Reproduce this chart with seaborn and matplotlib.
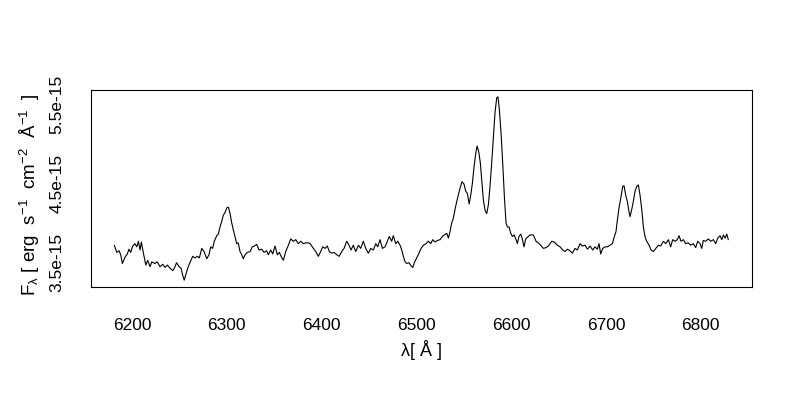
import numpy as np
import pandas as pd
import seaborn as sns
import matplotlib
matplotlib.use("Agg")
import matplotlib.pyplot as plt

# wavelength (Angstrom) and flux (units of 1e-15 erg/s/cm^2/A)
wavelength = [
    6181.3, 6183.9, 6186.3, 6188.0, 6189.8, 6192.6, 6195.0, 6196.8, 6198.6, 6200.7,
    6203.0, 6205.0, 6206.7, 6208.4, 6209.8, 6212.0, 6214.5, 6216.5, 6219.0, 6220.8,
    6224.0, 6226.6, 6229.5, 6232.4, 6234.8, 6237.3, 6240.0, 6243.0, 6244.6, 6247.0,
    6249.6, 6251.7, 6253.5, 6255.0, 6257.0, 6258.7, 6261.0, 6264.0, 6266.5, 6268.9,
    6271.0, 6273.5, 6276.0, 6278.8, 6281.2, 6283.0, 6285.0, 6286.8, 6289.3, 6291.0,
    6292.8, 6294.6, 6296.3, 6298.0, 6299.9, 6301.6, 6303.4, 6305.0, 6306.9, 6308.6,
    6310.4, 6312.0, 6313.9, 6315.7, 6317.4, 6319.2, 6321.6, 6324.5, 6326.9, 6329.0,
    6331.5, 6334.0, 6336.8, 6339.2, 6342.0, 6343.8, 6346.3, 6348.4, 6350.8, 6353.3,
    6355.4, 6357.2, 6359.6, 6362.1, 6364.9, 6367.4, 6370.1, 6372.7, 6375.4, 6378.0,
    6380.7, 6383.2, 6386.0, 6387.8, 6391.3, 6393.8, 6396.5, 6399.0, 6401.1, 6403.6,
    6406.0, 6408.1, 6410.7, 6413.0, 6416.0, 6418.4, 6421.2, 6423.6, 6426.5, 6428.9,
    6431.0, 6433.4, 6436.0, 6438.8, 6441.2, 6444.0, 6446.5, 6449.3, 6451.8, 6454.6,
    6457.1, 6459.2, 6461.6, 6464.1, 6466.9, 6469.3, 6471.4, 6473.9, 6475.6, 6478.2,
    6480.3, 6482.7, 6484.5, 6486.2, 6488.0, 6489.8, 6492.2, 6494.3, 6496.1, 6497.8,
    6500.3, 6502.7, 6504.9, 6507.3, 6510.1, 6512.6, 6515.1, 6517.2, 6519.6, 6522.0,
    6524.9, 6527.3, 6529.4, 6532.0, 6533.7, 6535.4, 6537.2, 6538.9, 6540.7, 6542.5,
    6544.2, 6546.0, 6548.1, 6550.2, 6552.0, 6553.8, 6555.6, 6557.3, 6559.0, 6560.8,
    6562.6, 6564.0, 6565.7, 6567.4, 6568.9, 6570.6, 6572.4, 6574.2, 6575.9, 6577.6,
    6579.4, 6581.2, 6582.9, 6584.7, 6586.0, 6587.5, 6589.3, 6591.0, 6592.8, 6594.5,
    6596.0, 6597.7, 6599.5, 6601.2, 6603.0, 6604.8, 6606.5, 6608.2, 6610.0, 6611.7,
    6613.5, 6615.3, 6618.0, 6619.8, 6623.3, 6626.2, 6628.6, 6631.1, 6633.9, 6636.7,
    6639.2, 6642.7, 6645.5, 6648.6, 6651.5, 6654.3, 6656.8, 6659.2, 6662.0, 6664.5,
    6667.3, 6669.8, 6672.6, 6675.1, 6677.9, 6680.4, 6683.2, 6686.0, 6688.4, 6690.9,
    6692.6, 6694.4, 6696.5, 6699.0, 6701.4, 6704.2, 6706.7, 6708.8, 6710.5, 6712.0,
    6713.7, 6715.5, 6717.6, 6719.0, 6720.8, 6722.5, 6724.3, 6725.3, 6727.1, 6728.8,
    6730.6, 6732.4, 6734.1, 6735.9, 6737.7, 6739.4, 6741.1, 6742.9, 6745.4, 6747.5,
    6749.9, 6752.5, 6755.2, 6757.7, 6760.5, 6763.0, 6765.8, 6768.2, 6770.3, 6772.8,
    6775.2, 6777.0, 6779.1, 6781.6, 6784.1, 6786.8, 6789.3, 6792.1, 6794.6, 6796.7,
    6799.2, 6801.0, 6802.6, 6805.2, 6807.9, 6810.4, 6813.2, 6815.7, 6817.9, 6820.3,
    6822.1, 6823.8, 6825.6, 6827.4, 6829.0,
]
flux = [
    3.72, 3.63, 3.65, 3.60, 3.49, 3.57, 3.61, 3.67, 3.63, 3.71,
    3.74, 3.70, 3.77, 3.66, 3.76, 3.62, 3.47, 3.53, 3.45, 3.51,
    3.49, 3.51, 3.45, 3.48, 3.44, 3.47, 3.43, 3.40, 3.43, 3.50,
    3.45, 3.43, 3.34, 3.28, 3.36, 3.43, 3.50, 3.58, 3.56, 3.58,
    3.56, 3.68, 3.64, 3.55, 3.60, 3.70, 3.68, 3.77, 3.84, 3.86,
    3.95, 4.02, 4.10, 4.13, 4.19, 4.20, 4.12, 4.01, 3.91, 3.83,
    3.74, 3.75, 3.64, 3.60, 3.55, 3.60, 3.63, 3.64, 3.70, 3.71,
    3.73, 3.66, 3.67, 3.63, 3.65, 3.60, 3.66, 3.61, 3.71, 3.60,
    3.63, 3.58, 3.53, 3.64, 3.72, 3.80, 3.77, 3.79, 3.74, 3.77,
    3.74, 3.75, 3.75, 3.74, 3.68, 3.64, 3.58, 3.64, 3.70, 3.68,
    3.71, 3.64, 3.62, 3.63, 3.60, 3.58, 3.64, 3.68, 3.77, 3.72,
    3.66, 3.72, 3.64, 3.72, 3.68, 3.77, 3.68, 3.62, 3.68, 3.66,
    3.74, 3.70, 3.79, 3.68, 3.70, 3.77, 3.83, 3.77, 3.84, 3.74,
    3.77, 3.72, 3.66, 3.58, 3.51, 3.49, 3.50, 3.46, 3.44, 3.50,
    3.56, 3.62, 3.68, 3.72, 3.74, 3.77, 3.74, 3.79, 3.76, 3.78,
    3.79, 3.83, 3.85, 3.87, 3.81, 3.89, 4.00, 4.06, 4.17, 4.27,
    4.35, 4.44, 4.52, 4.49, 4.40, 4.37, 4.24, 4.35, 4.50, 4.71,
    4.88, 4.97, 4.90, 4.76, 4.54, 4.29, 4.16, 4.12, 4.23, 4.46,
    4.76, 5.09, 5.39, 5.58, 5.59, 5.43, 5.13, 4.76, 4.33, 4.00,
    3.95, 3.95, 3.87, 3.83, 3.85, 3.80, 3.74, 3.83, 3.86, 3.80,
    3.70, 3.80, 3.83, 3.85, 3.85, 3.77, 3.75, 3.72, 3.68, 3.69,
    3.71, 3.77, 3.76, 3.72, 3.70, 3.66, 3.64, 3.67, 3.65, 3.62,
    3.68, 3.66, 3.74, 3.71, 3.72, 3.67, 3.71, 3.66, 3.70, 3.67,
    3.74, 3.61, 3.68, 3.70, 3.70, 3.72, 3.74, 3.83, 3.89, 4.04,
    4.19, 4.31, 4.46, 4.47, 4.35, 4.27, 4.14, 4.08, 4.17, 4.27,
    4.40, 4.46, 4.48, 4.35, 4.17, 3.95, 3.83, 3.77, 3.72, 3.66,
    3.64, 3.68, 3.72, 3.71, 3.77, 3.74, 3.79, 3.70, 3.79, 3.77,
    3.79, 3.84, 3.77, 3.79, 3.74, 3.75, 3.72, 3.74, 3.69, 3.77,
    3.74, 3.68, 3.78, 3.77, 3.80, 3.77, 3.79, 3.74, 3.81, 3.84,
    3.79, 3.85, 3.81, 3.86, 3.79,
]

yticks = [3.5e-15, 4.0e-15, 4.5e-15, 5.0e-15, 5.5e-15]
ytick_labels = ["3.5e-15", "", "4.5e-15", "", "5.5e-15"]
xticks = [6200, 6300, 6400, 6500, 6600, 6700, 6800]

spec = pd.DataFrame({"wave": wavelength, "flux": np.array(flux) * 1e-15})

sns.set_theme(style="white")
plt.rcParams["font.family"] = ["Liberation Sans", "DejaVu Sans"]
plt.rcParams["mathtext.fontset"] = "custom"
plt.rcParams["mathtext.rm"] = "Liberation Sans"
plt.rcParams["mathtext.it"] = "Liberation Sans"
plt.rcParams["mathtext.default"] = "regular"
plt.rcParams["text.color"] = "black"
plt.rcParams["axes.labelcolor"] = "black"

fig = plt.figure(figsize=(8, 4), dpi=100)
ax = fig.add_axes([0.1134, 0.2818, 0.8266, 0.4933])

sns.lineplot(data=spec, x="wave", y="flux", ax=ax, color="black",
             linewidth=0.8, estimator=None, sort=False)

ax.set_xlim(6156.4, 6854.0)
ax.set_ylim(3.19e-15, 5.677e-15)
ax.set_xticks(xticks)
ax.set_yticks(yticks)
ax.set_yticklabels(ytick_labels, rotation=90, va="center")
ax.tick_params(axis="both", direction="in", length=4, width=0.8,
               labelsize=12.5, colors="black")
ax.tick_params(axis="x", pad=22)
ax.tick_params(axis="y", pad=19)
for s in ax.spines.values():
    s.set_color("black")
    s.set_linewidth(0.8)

ax.set_xlabel("λ[ Å ]", fontsize=13)
ax.xaxis.set_label_coords(0.5, -0.32)
ax.xaxis.label.set_va("center")
ax.set_ylabel(r"F$_{λ}$ [ erg  s$^{-1}$  cm$^{-2}$  Å$^{-1}$  ]", fontsize=13.5)
ax.yaxis.set_label_coords(-0.092, 0.47)
ax.yaxis.label.set_va("center")

fig.savefig("out.png", dpi=100)
